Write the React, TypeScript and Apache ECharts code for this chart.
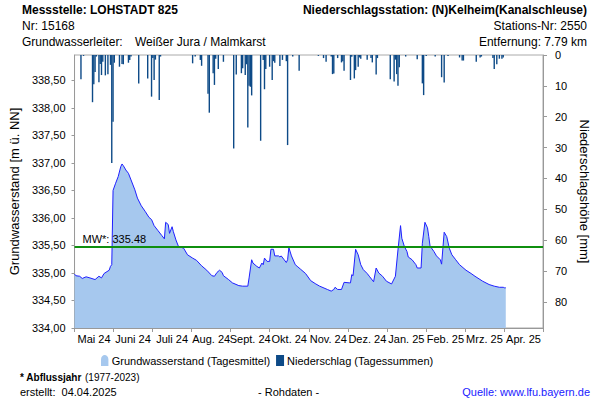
import React, { useEffect, useRef } from "react";
import * as echarts from "echarts";

const monthLabels = ["Mai 24", "Juni 24", "Juli 24", "Aug. 24", "Sept. 24", "Okt. 24", "Nov. 24", "Dez. 24", "Jan. 25", "Feb. 25", "Mrz. 25", "Apr. 25"];

// groundwater level (daily mean), day index since 01.05.2024
const gwDays = [0, 1, 4, 6, 9, 12, 16, 19, 21, 23, 27, 28, 29, 30, 32, 34, 36, 37, 38, 40, 42, 44, 47, 49, 52, 55, 58, 60, 62, 65, 68, 70, 71, 73, 74, 76, 77, 79, 81, 85, 88, 92, 95, 99, 103, 107, 109, 111, 113, 115, 116, 120, 123, 128, 131, 135, 136, 138, 139, 142, 144, 146, 147, 148, 150, 152, 153, 155, 156, 159, 160, 161, 163, 165, 166, 167, 169, 172, 174, 176, 180, 184, 188, 191, 197, 200, 202, 203, 205, 208, 210, 214, 215, 216, 217, 219, 221, 223, 225, 228, 230, 233, 235, 237, 240, 243, 247, 250, 252, 254, 255, 257, 259, 260, 263, 266, 267, 270, 271, 273, 275, 276, 277, 280, 282, 285, 286, 288, 290, 292, 294, 297, 300, 305, 309, 312, 318, 323, 327, 331, 334, 335, 336];
const gwLevels = [334.98, 334.95, 334.94, 334.90, 334.93, 334.91, 334.88, 334.94, 334.91, 334.99, 335.05, 335.12, 335.15, 336.50, 336.63, 336.75, 336.93, 336.98, 336.95, 336.87, 336.81, 336.69, 336.51, 336.36, 336.22, 336.12, 336.01, 335.97, 335.86, 335.77, 335.68, 335.62, 335.92, 335.88, 335.72, 335.84, 335.75, 335.60, 335.48, 335.45, 335.33, 335.27, 335.23, 335.13, 335.05, 334.95, 334.94, 335.01, 335.05, 335.01, 334.95, 334.88, 334.82, 334.77, 334.76, 334.76, 334.91, 335.24, 335.18, 335.12, 335.09, 335.18, 335.15, 335.27, 335.21, 335.21, 335.43, 335.43, 335.31, 335.31, 335.29, 335.31, 335.25, 335.19, 335.24, 335.46, 335.31, 335.15, 335.11, 335.07, 334.99, 334.86, 334.80, 334.76, 334.70, 334.67, 334.70, 334.74, 334.70, 334.70, 334.83, 334.82, 334.82, 334.97, 334.95, 335.43, 335.33, 335.15, 335.06, 334.99, 334.93, 334.84, 335.09, 335.00, 334.94, 334.85, 334.80, 334.94, 335.42, 335.86, 335.63, 335.48, 335.39, 335.29, 335.24, 335.15, 335.09, 335.09, 335.54, 335.92, 335.82, 335.66, 335.49, 335.39, 335.31, 335.24, 335.16, 335.74, 335.66, 335.45, 335.33, 335.24, 335.15, 335.05, 334.99, 334.94, 334.85, 334.79, 334.76, 334.74, 334.74, 334.73, 334.73];

// precipitation (daily sums, mm)
const prDays = [5, 7, 14, 15, 16, 17, 19, 20, 21, 22, 24, 26, 28, 29, 30, 31, 35, 37, 38, 42, 43, 44, 50, 57, 60, 61, 62, 63, 66, 67, 92, 94, 98, 99, 104, 105, 108, 109, 110, 112, 116, 124, 126, 130, 131, 133, 134, 135, 136, 137, 138, 145, 147, 148, 149, 152, 154, 155, 156, 160, 162, 165, 166, 170, 175, 190, 194, 196, 200, 201, 202, 205, 208, 209, 210, 215, 216, 218, 219, 221, 222, 223, 228, 231, 232, 235, 236, 246, 249, 250, 251, 252, 253, 258, 267, 271, 272, 274, 281, 286, 288, 291, 300, 302, 303, 313, 316, 317, 326, 327, 329, 331, 333, 334];
const prMm = [7.9, 0.3, 15.3, 9.5, 5.5, 0.5, 8.8, 2.9, 6.5, 2.2, 6.6, 6.2, 3.2, 35, 21.6, 2.5, 3.8, 2.9, 3.0, 2.5, 1.6, 0.5, 9.2, 7.6, 13.5, 1, 8.1, 1.5, 14.6, 0.5, 2.7, 0.5, 1.6, 3.5, 12.6, 18.7, 5.9, 9.7, 1.2, 4.5, 2.2, 30.3, 6.3, 5.9, 4.3, 6.5, 3, 23.5, 10, 10.3, 13.1, 27.8, 1.6, 11.1, 4.5, 3.8, 8.1, 2, 2.5, 3.6, 1.6, 2, 29.2, 0.5, 5.1, 0.3, 1, 2.2, 0.5, 6.2, 6, 1, 2.4, 2, 5.1, 8.1, 0.6, 7.6, 4.9, 3.8, 0.8, 1.2, 1.5, 1, 2.4, 6.3, 1, 7.9, 8.6, 1.5, 6.2, 10, 4, 0.5, 1.4, 9.2, 13, 0.3, 0.5, 7.2, 8.9, 0.3, 0.8, 1.8, 1.8, 2.2, 0.8, 0.5, 1, 4.5, 3, 1.2, 1.2, 0.8];

const meanLevel = 335.48;

const FONT = "'Liberation Sans', Arial, sans-serif";
const GW_NAME = "Grundwasserstand (Tagesmittel)";
const PR_NAME = "Niederschlag (Tagessummen)";

export default function App() {
  const ref = useRef<HTMLDivElement>(null);
  useEffect(() => {
    if (!ref.current) return;
    const chart = echarts.init(ref.current, undefined, { renderer: "svg" });
    const gwData = gwDays.map((d, i) => [d, gwLevels[i]]);
    const prData = prDays.map((d, i) => [d, prMm[i]]);
    const axisGray = "#999999";
    chart.setOption({
      animation: false,
      textStyle: { fontFamily: FONT, color: "#000" },
      grid: { left: 74, right: 57, top: 55, bottom: 72, show: true, borderColor: "#aaaaaa", borderWidth: 1 },
      legend: {
        left: 96,
        top: 350,
        itemGap: 6,
        itemWidth: 8,
        itemHeight: 11,
        textStyle: { fontSize: 11, fontFamily: FONT, color: "#000", padding: [0, 0, 0, -2] },
        data: [
          { name: GW_NAME, icon: "path://M0,12 L0,5 C0,-1.5 8,-1.5 8,5 L8,12 Z", itemStyle: { color: "#a6c8ee" } },
          { name: PR_NAME, icon: "rect", itemStyle: { color: "#0d4a87" } },
        ],
      },
      xAxis: [
        { type: "value", min: 0, max: 365, show: false, gridIndex: 0 },
        {
          type: "category",
          data: monthLabels,
          position: "bottom",
          boundaryGap: true,
          axisLine: { show: true, lineStyle: { color: axisGray } },
          axisTick: { show: true, interval: 0, length: 4, lineStyle: { color: axisGray } },
          axisLabel: { interval: 0, fontSize: 11, color: "#000", fontFamily: FONT, margin: 5 },
          splitLine: { show: false },
        },
      ],
      yAxis: [
        {
          type: "value",
          min: 334,
          max: 338.96,
          interval: 0.5,
          position: "left",
          name: "Grundwasserstand [m ü. NN]",
          nameLocation: "middle",
          nameGap: 42,
          nameTextStyle: { fontSize: 13, color: "#000", fontFamily: FONT },
          axisLine: { show: true, lineStyle: { color: axisGray } },
          axisTick: { show: true, length: 3, lineStyle: { color: axisGray } },
          axisLabel: {
            fontSize: 11,
            color: "#000",
            fontFamily: FONT,
            margin: 9,
            showMaxLabel: false,
            formatter: (v: number) => v.toFixed(2).replace(".", ","),
          },
          splitLine: { show: false },
        },
        {
          type: "value",
          min: 0,
          max: 88.5,
          interval: 10,
          inverse: true,
          position: "right",
          name: "Niederschlagshöhe [mm]",
          nameLocation: "middle",
          nameRotate: -90,
          nameGap: 28,
          nameTextStyle: { fontSize: 13, color: "#000", fontFamily: FONT },
          axisLine: { show: true, lineStyle: { color: axisGray } },
          axisTick: { show: true, length: 4, lineStyle: { color: axisGray } },
          axisLabel: { fontSize: 11, color: "#000", fontFamily: FONT, margin: 12, showMaxLabel: false },
          splitLine: { show: false },
        },
      ],
      series: [
        {
          name: GW_NAME,
          type: "line",
          xAxisIndex: 0,
          yAxisIndex: 0,
          data: gwData,
          showSymbol: false,
          symbol: "none",
          lineStyle: { color: "#1f1fff", width: 1 },
          itemStyle: { color: "#a6c8ee" },
          areaStyle: { color: "#a6c8ee", opacity: 1, origin: "start" },
          markLine: {
            silent: true,
            symbol: "none",
            lineStyle: { color: "#0f8f0f", width: 2, type: "solid" },
            label: {
              show: true,
              position: "insideStartTop",
              formatter: "MW*: " + meanLevel.toFixed(2),
              color: "#000",
              fontSize: 11,
              fontFamily: FONT,
              distance: [8, 2],
            },
            data: [{ yAxis: meanLevel }],
          },
          z: 2,
        },
        {
          name: PR_NAME,
          type: "bar",
          xAxisIndex: 0,
          yAxisIndex: 1,
          data: prData,
          barWidth: 1.4,
          itemStyle: { color: "#0d4a87" },
          z: 3,
        },
      ],
      graphic: [
        { type: "text", left: 22, top: 4, style: { text: "Messstelle: LOHSTADT 825", font: `bold 12px ${FONT}`, fill: "#000" } },
        { type: "text", left: 22, top: 20, style: { text: "Nr: 15168", font: `12px ${FONT}`, fill: "#000" } },
        { type: "text", left: 22, top: 36, style: { text: "Grundwasserleiter:", font: `12px ${FONT}`, fill: "#000" } },
        { type: "text", left: 135, top: 36, style: { text: "Weißer Jura / Malmkarst", font: `12px ${FONT}`, fill: "#000" } },
        { type: "text", right: 13, top: 4, style: { text: "Niederschlagsstation: (N)Kelheim(Kanalschleuse)", font: `bold 12px ${FONT}`, fill: "#000" } },
        { type: "text", right: 13, top: 20, style: { text: "Stations-Nr: 2550", font: `12px ${FONT}`, fill: "#000" } },
        { type: "text", right: 13, top: 36, style: { text: "Entfernung: 7.79 km", font: `12px ${FONT}`, fill: "#000" } },
        {
          type: "text",
          left: 20,
          top: 371,
          style: {
            text: "{b|* Abflussjahr} {n|(1977-2023)}",
            rich: {
              b: { font: `bold 10px ${FONT}`, fill: "#000" },
              n: { font: `10px ${FONT}`, fill: "#000" },
            },
          },
        },
        { type: "text", left: 20, top: 386, style: { text: "erstellt:  04.04.2025", font: `11px ${FONT}`, fill: "#000" } },
        { type: "text", left: 258, top: 386, style: { text: "- Rohdaten -", font: `11px ${FONT}`, fill: "#000" } },
        { type: "text", right: 10, top: 386, style: { text: "Quelle: www.lfu.bayern.de", font: `11px ${FONT}`, fill: "#1a1aff" } },
      ],
    });
    return () => chart.dispose();
  }, []);
  return <div ref={ref} style={{ width: 600, height: 400, position: "absolute", left: 0, top: 0 }} />;
}
